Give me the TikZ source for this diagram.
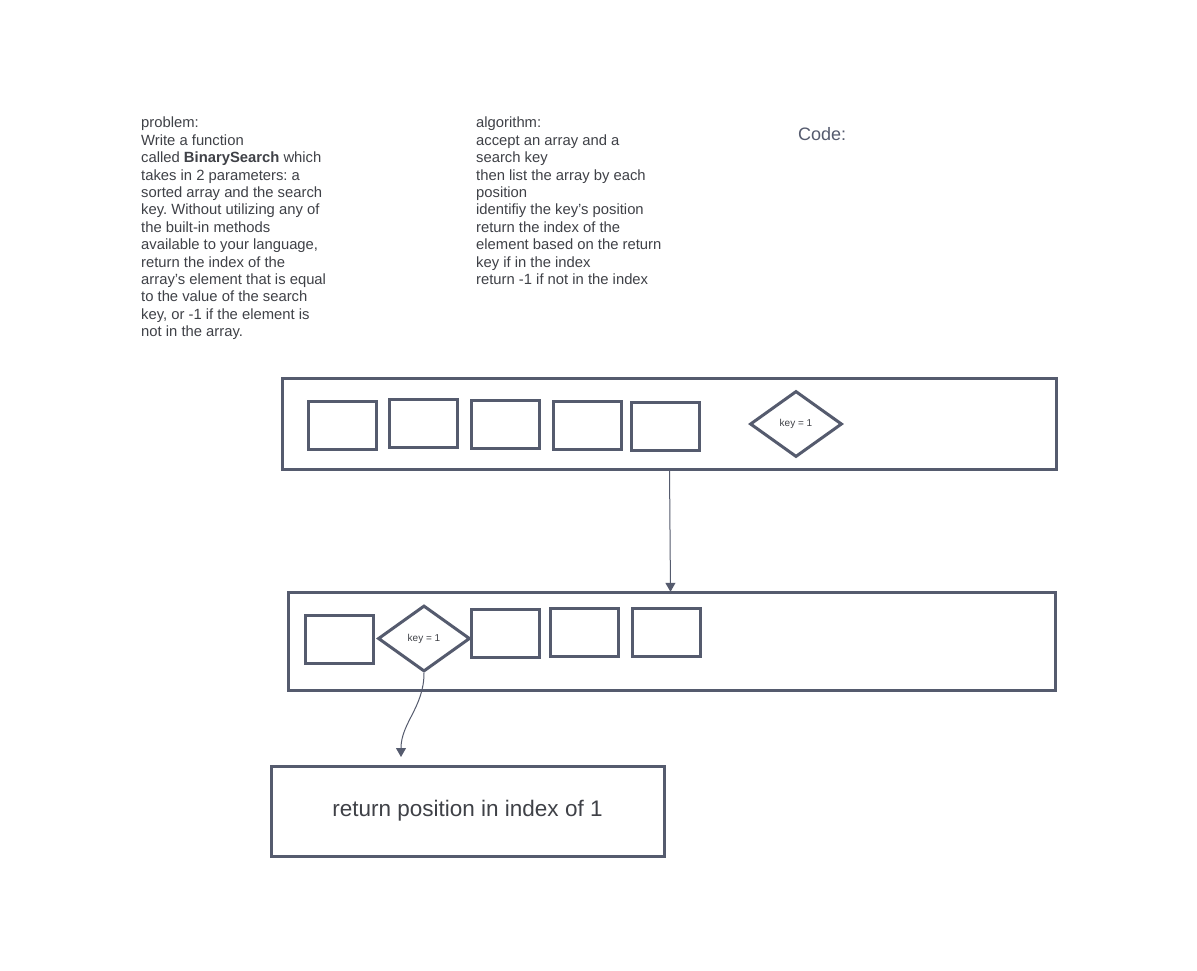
\documentclass[tikz,border=0pt]{standalone}
\usepackage{fontspec}
\setmainfont{Liberation Sans}
\usetikzlibrary{positioning,shapes.geometric,arrows.meta}
\definecolor{slate}{HTML}{555B6E}
\definecolor{ink}{HTML}{3F4147}
\frenchspacing
\tikzset{
  cell/.style={draw=slate, line width=3pt, minimum width=68pt, minimum height=48pt, inner sep=0pt},
  keybox/.style={diamond, draw=slate, line width=3pt, minimum width=92pt, minimum height=66pt,
    inner sep=0pt, font=\fontsize{10}{11}\selectfont, text=ink},
  note/.style={anchor=north west, align=left, inner sep=0pt, text=ink,
    font=\fontsize{14.8}{17.4}\selectfont},
  link/.style={draw=slate, line width=1pt, -{Triangle[width=10pt,length=9pt]}}
}
\begin{document}
\begin{tikzpicture}[x=1pt,y=-1pt]
  \useasboundingbox[fill=white] (0,0) rectangle (1197,971);

  % notes
  \node (problem) [note] at (141,117) {problem:\\Write a function\\called \textbf{BinarySearch} which\\takes in 2 parameters: a\\sorted array and the search\\key. Without utilizing any of\\the built-in methods\\available to your language,\\return the index of the\\array's element that is equal\\to the value of the search\\key, or -1 if the element is\\not in the array.};
  \node (algo) [note] at (476,117) {algorithm:\\accept an array and a\\search key\\then list the array by each\\position\\identifiy the key's position\\return the index of the\\element based on the return\\key if in the index\\return -1 if not in the index};
  \node (code) [note, text=slate, font=\fontsize{18}{20}\selectfont] at (798,127) {Code:};

  % first pass
  \draw[slate, line width=3pt] (282,378) rectangle (1056,469);
  \node (arr1) [inner sep=0pt, minimum width=774pt, minimum height=91pt] at (669,423.5) {};
  \foreach \x/\y [count=\i] in {342/425, 423/423.5, 505/424, 587/425, 665.5/426.5}
    \node (cell1\i) [cell] at (\x,\y) {};
  \node (key1) [keybox] at (796,424) {key = 1};

  % second pass
  \draw[slate, line width=3pt] (288,592) rectangle (1055,690);
  \node (arr2) [inner sep=0pt, minimum width=767pt, minimum height=98pt] at (671.5,641) {};
  \node (cell21) [cell] at (339.5,639) {};
  \node (key2) [keybox] at (424,638.5) {key = 1};
  \foreach \x/\y [count=\i from 3] in {505/633.5, 584/632.5, 666/632.5}
    \node (cell2\i) [cell] at (\x,\y) {};

  % result
  \node (result) [draw=slate, line width=3pt, minimum width=393pt, minimum height=90pt,
    text=ink, font=\fontsize{22.5}{26}\selectfont] at (467.5,811) {return position in index of 1};

  % connectors
  \coordinate (hit) at (401,757);
  \draw[link] ([xshift=4pt]arr1.south -| cell15) -- ([xshift=5pt]arr2.north -| cell15);
  \draw[link] (key2.south) to[out=-90,in=90] (hit);
\end{tikzpicture}
\end{document}
